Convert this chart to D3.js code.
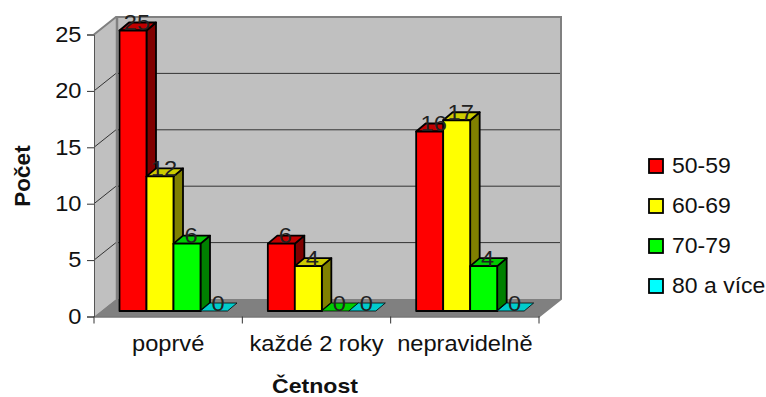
<!DOCTYPE html>
<html>
<head>
<meta charset="utf-8">
<script src="https://cdn.jsdelivr.net/npm/d3@7"></script>
<style>
body { margin: 0; background: #fff; }
text { font-family: "Liberation Sans", Arial, sans-serif; fill: #111; }
</style>
</head>
<body>
<div id="chart"></div>
<script>
const categories = ["poprvé", "každé 2 roky", "nepravidelně"]
const seriesNames = ["50-59", "60-69", "70-79", "80 a více"]
const values5059 = [25, 6, 16]
const values6069 = [12, 4, 17]
const values7079 = [6, 0, 4]
const values80 = [0, 0, 0]
const yTicks = [0, 5, 10, 15, 20, 25]

const allValues = [values5059, values6069, values7079, values80]
const frontColors = ["#ff0000", "#ffff00", "#00ff00", "#00ffff"]
const topColors = ["#c00000", "#cccc00", "#00cc00", "#00cccc"]
const sideColors = ["#800000", "#808000", "#008000", "#008080"]

// plot box, front edge of the floor
const plotLeft = 94, plotRight = 539, plotBottom = 316.5, plotTop = 34.5
// how far the back wall sits behind the front edge
const wallDx = 22, wallDy = -17.5
// bar depth
const barDx = 5.5, depthX = 9.5, depthY = -8

const fontSize = 21.5
const stretch = 1.1 // the original text is a bit wider than it is tall

const svg = d3.select("#chart").append("svg")
    .attr("width", 766)
    .attr("height", 397)
    .style("display", "block")

const x = d3.scaleBand().domain(categories).range([plotLeft, plotRight])
const y = d3.scaleLinear().domain([0, 25]).range([plotBottom, plotTop])
// bars stand a little inside the floor so they have their own y scale
const yBar = d3.scaleLinear().domain([0, 25]).range([311, 30.5])
const x1 = d3.scaleBand().domain(seriesNames).range([20, 128])

const pts = p => p.map(d => d.join(",")).join(" ")

// walls and floor
svg.append("rect")
    .attr("x", plotLeft + wallDx).attr("y", plotTop + wallDy)
    .attr("width", plotRight - plotLeft).attr("height", plotBottom - plotTop)
    .attr("fill", "#c0c0c0")
svg.append("polygon")
    .attr("points", pts([[plotLeft, plotTop], [plotLeft + wallDx, plotTop + wallDy], [plotLeft + wallDx, plotBottom + wallDy], [plotLeft, plotBottom]]))
    .attr("fill", "#c0c0c0")
svg.append("polygon")
    .attr("points", pts([[plotLeft, plotBottom], [plotLeft + wallDx, plotBottom + wallDy], [plotRight + wallDx, plotBottom + wallDy], [plotRight, plotBottom]]))
    .attr("fill", "#808080")

// gridlines
svg.append("g").selectAll("path")
    .data(yTicks.filter(d => d > 0 && d < 25))
    .join("path")
    .attr("d", d => `M${plotLeft},${y(d)}L${plotLeft + wallDx},${y(d) + wallDy}H${plotRight + wallDx}`)
    .attr("fill", "none")
    .attr("stroke", "#333")
    .attr("stroke-width", 1)

// wall edges
svg.append("path")
    .attr("d", `M${plotLeft},${plotTop}L${plotLeft + wallDx},${plotTop + wallDy}H${plotRight + wallDx}V${plotBottom + wallDy}L${plotRight},${plotBottom}`)
    .attr("fill", "none")
    .attr("stroke", "#808080")
    .attr("stroke-width", 2)
svg.append("line")
    .attr("x1", plotLeft + wallDx + 1).attr("x2", plotLeft + wallDx + 1)
    .attr("y1", plotTop + wallDy).attr("y2", plotBottom + wallDy)
    .attr("stroke", "#808080")
    .attr("stroke-width", 2.5)

// bars, one group per category
const barW = x1.bandwidth()
categories.forEach(function (cat, c) {
    const g = svg.append("g").attr("stroke", "#000").attr("stroke-width", 1.8).attr("stroke-linejoin", "round")
    seriesNames.forEach(function (name, s) {
        const v = allValues[s][c]
        const x0 = x(cat) + x1(name) + barDx
        const x2 = x0 + barW
        const yTop = yBar(v)
        const yBot = yBar(0)
        if (v > 0) {
            g.append("polygon")
                .attr("points", pts([[x2, yTop], [x2 + depthX, yTop + depthY], [x2 + depthX, yBot + depthY], [x2, yBot]]))
                .attr("fill", sideColors[s])
            g.append("polygon")
                .attr("points", pts([[x0, yTop], [x0 + depthX, yTop + depthY], [x2 + depthX, yTop + depthY], [x2, yTop]]))
                .attr("fill", topColors[s])
            g.append("rect")
                .attr("x", x0).attr("y", yTop)
                .attr("width", barW).attr("height", yBot - yTop)
                .attr("fill", frontColors[s])
        } else {
            g.append("polygon")
                .attr("points", pts([[x0, yTop], [x0 + depthX, yTop + depthY], [x2 + depthX, yTop + depthY], [x2, yTop]]))
                .attr("fill", topColors[s])
                .attr("stroke-width", 0.8)
        }
    })
})

// value labels go on top of all bars
categories.forEach(function (cat, c) {
    seriesNames.forEach(function (name, s) {
        const v = allValues[s][c]
        svg.append("text")
            .attr("transform", `translate(${x(cat) + x1(name) + barDx + barW / 2 + 4},${yBar(v) - 0.5}) scale(${stretch},1)`)
            .attr("text-anchor", "middle")
            .attr("font-size", fontSize)
            .style("fill", "#222")
            .text(v)
    })
})

// axes
const yAxis = svg.append("g")
    .attr("transform", `translate(${plotLeft},0)`)
    .call(d3.axisLeft(y).tickValues(yTicks).tickSize(7).tickPadding(4.4))
const xAxis = svg.append("g")
    .attr("transform", `translate(0,${plotBottom})`)
    .call(d3.axisBottom(x).tickSize(0).tickPadding(19))

yAxis.select(".domain").attr("stroke", "#555")
yAxis.selectAll(".tick line").attr("stroke", "#333")
yAxis.selectAll(".tick text")
    .attr("font-size", fontSize)
    .attr("font-family", "Liberation Sans")
    .attr("transform", `scale(${stretch},1)`)
xAxis.select(".domain").attr("stroke", "#333")
xAxis.selectAll(".tick text")
    .attr("font-size", fontSize)
    .attr("font-family", "Liberation Sans")
    .attr("transform", `scale(${stretch},1)`)

// tick marks between the categories
svg.append("g").selectAll("line")
    .data(categories.map(d => x(d)).concat([plotRight]))
    .join("line")
    .attr("x1", d => d).attr("x2", d => d)
    .attr("y1", plotBottom).attr("y2", plotBottom + 7)
    .attr("stroke", "#333")

// axis titles
svg.append("text")
    .attr("transform", "translate(30,176) rotate(-90)")
    .attr("text-anchor", "middle")
    .attr("font-size", 22.5)
    .attr("font-weight", "bold")
    .text("Počet")
svg.append("text")
    .attr("transform", "translate(315,392.7) scale(1.155,1)")
    .attr("text-anchor", "middle")
    .attr("font-size", 20)
    .attr("font-weight", "bold")
    .text("Četnost")

// legend
const legendRows = [166, 206, 246, 286]
const legend = svg.append("g").selectAll("g")
    .data(seriesNames)
    .join("g")
    .attr("transform", (d, i) => `translate(649,${legendRows[i]})`)
legend.append("rect")
    .attr("x", 0).attr("y", -7)
    .attr("width", 14).attr("height", 14)
    .attr("fill", (d, i) => frontColors[i])
    .attr("stroke", "#000")
    .attr("stroke-width", 1.8)
legend.append("text")
    .attr("transform", "translate(23,7) scale(1.07,1)")
    .attr("font-size", fontSize)
    .text(d => d)
</script>
</body>
</html>
